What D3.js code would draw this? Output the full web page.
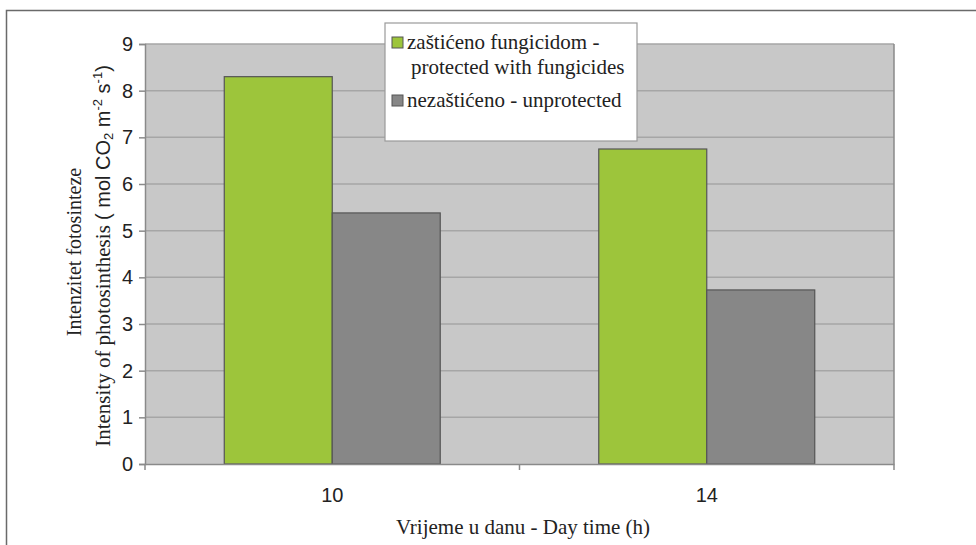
<!DOCTYPE html>
<html><head><meta charset="utf-8">
<script src="https://cdn.jsdelivr.net/npm/d3@7"></script>
<style>
body{margin:0;background:#fff}svg{display:block}
.serif{font-family:"Liberation Serif","DejaVu Serif",serif}
.sans{font-family:"Liberation Sans","DejaVu Sans",sans-serif}
</style>
</head><body><svg id="c" width="976" height="545"></svg>
<script>
const categories = ["10", "14"];
const seriesNames = ["zaštićeno fungicidom - protected with fungicides", "nezaštićeno - unprotected"];
const protectedValues = [8.3, 6.75];
const unprotectedValues = [5.38, 3.73];
const yTicks = [0,1,2,3,4,5,6,7,8,9];

const svg = d3.select("#c");
const W = 976, H = 545;
const plot = {l:145, r:894, t:44, b:464};
const colors = ["#9dc53b", "#878787"];

// outer frame
svg.append("path").attr("d", `M6.5,${H} L6.5,10.5 L${W},10.5`).attr("fill","none").attr("stroke","#6a6a6a").attr("stroke-width",1.5);

const x = d3.scaleBand().domain(categories).range([plot.l, plot.r]).paddingInner(0).paddingOuter(0);
const xs = d3.scaleBand().domain([0,1]).range([0, x.bandwidth()]).paddingInner(0).paddingOuter(0.734);
const y = d3.scaleLinear().domain([0,9]).range([plot.b, plot.t]);

svg.append("rect").attr("x",plot.l).attr("y",plot.t).attr("width",plot.r-plot.l).attr("height",plot.b-plot.t).attr("fill","#c8c8c8");
svg.append("g").selectAll("line").data(yTicks.filter(d=>d>0)).join("line")
  .attr("x1",plot.l).attr("x2",plot.r).attr("y1",d=>y(d)).attr("y2",d=>y(d))
  .attr("stroke","#a6a6a6").attr("stroke-width",1.5);
svg.append("line").attr("x1",plot.r).attr("x2",plot.r).attr("y1",plot.t).attr("y2",plot.b).attr("stroke","#8a8a8a").attr("stroke-width",1.5);

const data = categories.map((c,i)=>({cat:c, vals:[protectedValues[i], unprotectedValues[i]]}));
const g = svg.append("g").selectAll("g").data(data).join("g").attr("transform",d=>`translate(${x(d.cat)},0)`);
g.selectAll("rect").data(d=>d.vals.map((v,j)=>({v,j}))).join("rect")
  .attr("x",d=>xs(d.j)).attr("width",xs.bandwidth())
  .attr("y",d=>y(d.v)).attr("height",d=>y(0)-y(d.v))
  .attr("fill",d=>colors[d.j]).attr("stroke","#555").attr("stroke-width",1.2);

const yAxis = d3.axisLeft(y).tickValues(yTicks).tickSize(6).tickPadding(6).tickFormat(d3.format("d"));
const ya = svg.append("g").attr("transform",`translate(${plot.l},0)`).call(yAxis);
ya.attr("font-family",null).attr("font-size",null);
ya.select(".domain").attr("stroke","#8a8a8a").attr("stroke-width",1.5);
ya.selectAll(".tick line").attr("stroke","#8a8a8a").attr("stroke-width",1.5);
ya.selectAll("text").attr("class","sans").attr("font-size",20).attr("fill","#222");

const xAxis = d3.axisBottom(x).tickSize(0).tickPadding(24);
const xa = svg.append("g").attr("transform",`translate(0,${plot.b})`).call(xAxis);
xa.attr("font-family",null).attr("font-size",null);
xa.select(".domain").attr("stroke","#8a8a8a").attr("stroke-width",1.5);
xa.selectAll("text").attr("class","sans").attr("font-size",20).attr("fill","#222");
svg.append("g").selectAll("line").data([plot.l, x(categories[1]), plot.r]).join("line")
  .attr("x1",d=>d).attr("x2",d=>d).attr("y1",plot.b).attr("y2",plot.b+6)
  .attr("stroke","#8a8a8a").attr("stroke-width",1.5);

svg.append("text").attr("class","serif").attr("x",523).attr("y",534).attr("text-anchor","middle")
  .attr("font-size",21).attr("fill","#222").text("Vrijeme u danu - Day time (h)");
svg.append("text").attr("class","serif").attr("transform","translate(81,252) rotate(-90)").attr("text-anchor","middle")
  .attr("font-size",20).attr("fill","#222").text("Intenzitet fotosinteze");
const yt2 = svg.append("text").attr("transform","translate(110,256) rotate(-90)").attr("text-anchor","middle")
  .attr("fill","#222").attr("font-size",20);
yt2.append("tspan").attr("class","serif").attr("font-size",21).text("Intensity of photosinthesis ");
yt2.append("tspan").attr("class","sans").text("(  mol CO");
yt2.append("tspan").attr("class","sans").attr("font-size",13).attr("dy",3).text("2");
yt2.append("tspan").attr("class","sans").attr("dy",-3).text(" m");
yt2.append("tspan").attr("class","sans").attr("font-size",13).attr("dy",-8).text("-2");
yt2.append("tspan").attr("class","sans").attr("dy",8).text(" s");
yt2.append("tspan").attr("class","sans").attr("font-size",13).attr("dy",-8).text("-1");
yt2.append("tspan").attr("class","sans").attr("dy",8).text(")");

const lg = svg.append("g");
lg.append("rect").attr("x",385).attr("y",23).attr("width",252).attr("height",118)
  .attr("fill","#fff").attr("stroke","#9a9a9a").attr("stroke-width",1.2);
const legendLines = [["zaštićeno fungicidom -","protected with fungicides"],["nezaštićeno - unprotected"]];
const ly = [42, 100];
legendLines.forEach((lines,i)=>{
  lg.append("rect").attr("x",392).attr("y",ly[i]-5).attr("width",11).attr("height",11)
    .attr("fill",colors[i]).attr("stroke","#555").attr("stroke-width",1);
  const t = lg.append("text").attr("class","serif").attr("font-size",21).attr("fill","#222");
  lines.forEach((s,k)=>t.append("tspan").attr("x",k===0?407:411).attr("y",ly[i]+7+k*25).text(s));
});
</script></body></html>
